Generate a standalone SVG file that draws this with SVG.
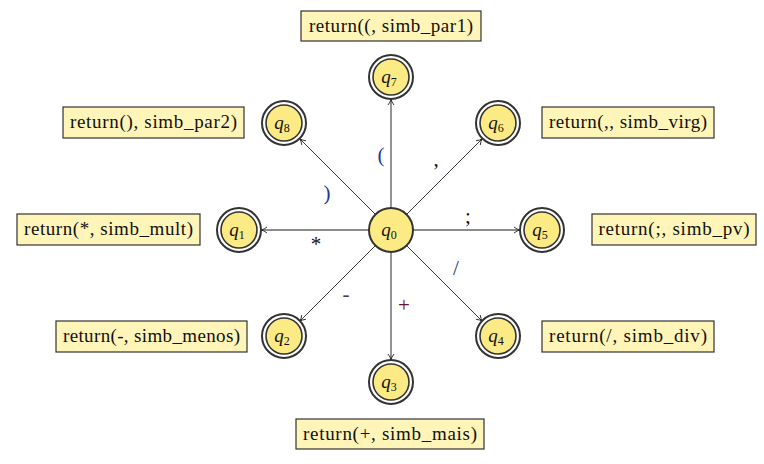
<svg xmlns="http://www.w3.org/2000/svg" width="764" height="464" viewBox="0 0 764 464">
<style>
.box{fill:#fff5b8;stroke:#333;stroke-width:1.2}
.bt{font-family:"Liberation Serif","DejaVu Serif","Times New Roman",serif;font-size:19px;fill:#111;text-anchor:middle}
.outer{fill:#fff;stroke:#333;stroke-width:2}
.inner{fill:#fcea85;stroke:#333;stroke-width:1.6}
.core{fill:#fcea85;stroke:#333;stroke-width:2}
.q{font-family:"Liberation Serif","DejaVu Serif","Times New Roman",serif;font-size:19px;font-style:italic;fill:#111;text-anchor:middle}
.sub{font-style:normal;font-size:12px}
.hv{stroke:#666;stroke-width:1.4;fill:none}
.dg{stroke:#222;stroke-width:0.9;fill:none}
.lb{font-family:"Liberation Serif","DejaVu Serif","Times New Roman",serif;font-size:21px;text-anchor:middle}
</style>
<defs>
<marker id="ar" viewBox="0 0 8 8" refX="7" refY="4" markerWidth="8" markerHeight="8" markerUnits="userSpaceOnUse" orient="auto">
<path d="M1,1 Q4,3.5 7,4 Q4,4.5 1,7" fill="none" stroke="#222" stroke-width="0.9"/>
</marker>
</defs>
<g id="connectors">
<line class="hv" x1="391" y1="208" x2="391" y2="99" marker-end="url(#ar)"/>
<line class="hv" x1="391" y1="252" x2="391" y2="360" marker-end="url(#ar)"/>
<line class="hv" x1="369" y1="230" x2="261" y2="230" marker-end="url(#ar)"/>
<line class="hv" x1="413" y1="230" x2="520" y2="230" marker-end="url(#ar)"/>
<line class="dg" x1="375.4" y1="214.4" x2="299.6" y2="138.6" marker-end="url(#ar)"/>
<line class="dg" x1="406.6" y1="214.4" x2="482.4" y2="138.6" marker-end="url(#ar)"/>
<line class="dg" x1="375.4" y1="245.6" x2="299.6" y2="321.4" marker-end="url(#ar)"/>
<line class="dg" x1="406.6" y1="245.6" x2="482.4" y2="321.4" marker-end="url(#ar)"/>
<text class="lb" x="381" y="162" fill="#1a3a9a">(</text>
<text class="lb" x="327" y="200" fill="#1a3a9a">)</text>
<text class="lb" x="436" y="166" fill="#111">,</text>
<text class="lb" x="468" y="223" fill="#111">;</text>
<text class="lb" x="316" y="251" fill="#111">*</text>
<text class="lb" x="346" y="301" fill="#444">-</text>
<text class="lb" x="404" y="312" fill="#6a1030">+</text>
<text class="lb" x="456" y="275" fill="#2a3a7a">/</text>
</g>
<g id="q0"><circle class="core" cx="391" cy="230" r="22"/><text class="q" x="389" y="236">q<tspan class="sub" dy="3">0</tspan></text></g>
<g id="q7"><circle class="outer" cx="391" cy="77" r="22"/><circle class="inner" cx="391" cy="77" r="18"/><text class="q" x="389" y="83">q<tspan class="sub" dy="3">7</tspan></text></g>
<g id="q3"><circle class="outer" cx="391" cy="382" r="22"/><circle class="inner" cx="391" cy="382" r="18"/><text class="q" x="389" y="388">q<tspan class="sub" dy="3">3</tspan></text></g>
<g id="q1"><circle class="outer" cx="239" cy="230" r="22"/><circle class="inner" cx="239" cy="230" r="18"/><text class="q" x="237" y="236">q<tspan class="sub" dy="3">1</tspan></text></g>
<g id="q5"><circle class="outer" cx="542" cy="230" r="22"/><circle class="inner" cx="542" cy="230" r="18"/><text class="q" x="540" y="236">q<tspan class="sub" dy="3">5</tspan></text></g>
<g id="q8"><circle class="outer" cx="284" cy="123" r="22"/><circle class="inner" cx="284" cy="123" r="18"/><text class="q" x="282" y="129">q<tspan class="sub" dy="3">8</tspan></text></g>
<g id="q6"><circle class="outer" cx="498" cy="123" r="22"/><circle class="inner" cx="498" cy="123" r="18"/><text class="q" x="496" y="129">q<tspan class="sub" dy="3">6</tspan></text></g>
<g id="q2"><circle class="outer" cx="284" cy="336" r="22"/><circle class="inner" cx="284" cy="336" r="18"/><text class="q" x="282" y="342">q<tspan class="sub" dy="3">2</tspan></text></g>
<g id="q4"><circle class="outer" cx="498" cy="336" r="22"/><circle class="inner" cx="498" cy="336" r="18"/><text class="q" x="496" y="342">q<tspan class="sub" dy="3">4</tspan></text></g>
<g id="box7"><rect class="box" x="301" y="11" width="180" height="30"/><text class="bt" x="391" y="32" textLength="164" lengthAdjust="spacing">return((, simb_par1)</text></g>
<g id="box8"><rect class="box" x="63" y="107" width="181" height="31"/><text class="bt" x="153.5" y="128" textLength="167" lengthAdjust="spacing">return(), simb_par2)</text></g>
<g id="box6"><rect class="box" x="542" y="107" width="172" height="31"/><text class="bt" x="628" y="128" textLength="158" lengthAdjust="spacing">return(,, simb_virg)</text></g>
<g id="box1"><rect class="box" x="17" y="214" width="183" height="31"/><text class="bt" x="108.5" y="235" textLength="169" lengthAdjust="spacing">return(*, simb_mult)</text></g>
<g id="box5"><rect class="box" x="592" y="214" width="164" height="31"/><text class="bt" x="674" y="235" textLength="151" lengthAdjust="spacing">return(;, simb_pv)</text></g>
<g id="box2"><rect class="box" x="56" y="321" width="191" height="31"/><text class="bt" x="151.5" y="342" textLength="177" lengthAdjust="spacing">return(-, simb_menos)</text></g>
<g id="box4"><rect class="box" x="542" y="321" width="172" height="31"/><text class="bt" x="628" y="342" textLength="158" lengthAdjust="spacing">return(/, simb_div)</text></g>
<g id="box3"><rect class="box" x="296" y="419" width="188" height="30"/><text class="bt" x="390" y="440" textLength="174" lengthAdjust="spacing">return(+, simb_mais)</text></g>
</svg>
